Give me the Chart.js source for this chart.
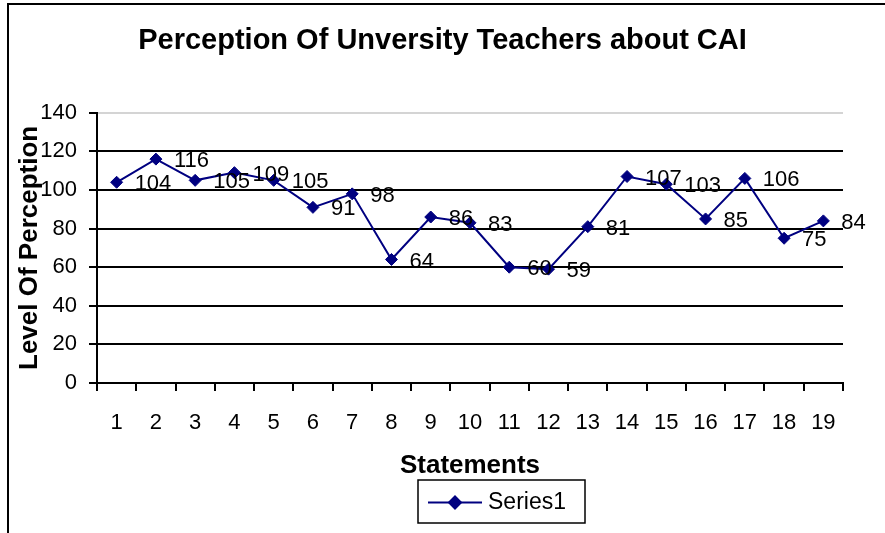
<!DOCTYPE html>
<html>
<head>
<meta charset="utf-8">
<title>Perception Of Unversity Teachers about CAI</title>
<script src="https://cdn.jsdelivr.net/npm/chart.js@4.4.1/dist/chart.umd.min.js"></script>
<style>
  html, body { margin: 0; padding: 0; background: #fff; }
  canvas { display: block; }
</style>
</head>
<body>
<canvas id="grafico" width="885" height="533"></canvas>
<script>
// dados
const statements = ['1', '2', '3', '4', '5', '6', '7', '8', '9', '10',
                    '11', '12', '13', '14', '15', '16', '17', '18', '19'];
const perception = [104, 116, 105, 109, 105, 91, 98, 64, 86, 83,
                    60, 59, 81, 107, 103, 85, 106, 75, 84];
const yMin = 0;
const yMax = 140;
const yStep = 20;

const fonte = '"Liberation Sans", Arial, sans-serif';
const azul = '#000080';

// moldura do gráfico (topo e lado esquerdo)
const moldura = {
    id: 'moldura',
    beforeDraw(chart) {
        const ctx = chart.ctx;
        ctx.save();
        ctx.strokeStyle = '#000';
        ctx.lineWidth = 2;
        ctx.beginPath();
        ctx.moveTo(8, chart.height);
        ctx.lineTo(8, 4);
        ctx.lineTo(chart.width, 4);
        ctx.stroke();
        ctx.restore();
    }
};

// rótulos de valor à direita de cada ponto
const rotulos = {
    id: 'rotulos',
    afterDatasetsDraw(chart) {
        const ctx = chart.ctx;
        const meta = chart.getDatasetMeta(0);
        ctx.save();
        ctx.font = '22px ' + fonte;
        ctx.fillStyle = '#000';
        ctx.textAlign = 'left';
        ctx.textBaseline = 'middle';
        meta.data.forEach((pt, i) => {
            ctx.fillText(String(perception[i]), pt.x + 18, pt.y + 2);
        });
        ctx.restore();
    }
};

// legenda em caixa (linha + losango)
const legendaCaixa = {
    id: 'legendaCaixa',
    afterDraw(chart) {
        const ctx = chart.ctx;
        const ds = chart.data.datasets[0];
        const x = 418, y = 480, w = 167, h = 43;
        const cy = y + h / 2 + 1;
        ctx.save();
        ctx.strokeStyle = '#000';
        ctx.lineWidth = 1.5;
        ctx.strokeRect(x, y, w, h);

        ctx.strokeStyle = ds.borderColor;
        ctx.lineWidth = 2;
        ctx.beginPath();
        ctx.moveTo(x + 10, cy);
        ctx.lineTo(x + 64, cy);
        ctx.stroke();

        ctx.fillStyle = ds.pointBackgroundColor;
        Chart.helpers.drawPoint(ctx, {
            pointStyle: 'rectRot',
            radius: 6,
            borderWidth: 1
        }, x + 37, cy);

        ctx.fillStyle = '#000';
        ctx.font = '23px ' + fonte;
        ctx.textBaseline = 'middle';
        ctx.fillText(ds.label, x + 70, cy);
        ctx.restore();
    }
};

const config = {
    type: 'line',
    data: {
        labels: statements,
        datasets: [{
            label: 'Series1',
            data: perception,
            borderColor: azul,
            backgroundColor: azul,
            borderWidth: 2,
            tension: 0,
            pointStyle: 'rectRot',
            pointRadius: 6,
            pointBackgroundColor: azul,
            pointBorderColor: azul,
            pointBorderWidth: 1
        }]
    },
    options: {
        responsive: false,
        animation: false,
        layout: {
            padding: 0
        },
        plugins: {
            legend: { display: false },
            tooltip: { enabled: false },
            title: {
                display: true,
                text: 'Perception Of Unversity Teachers about CAI',
                color: '#000',
                font: { family: fonte, size: 29, weight: 'bold' },
                padding: { top: 24, bottom: 54 }
            }
        },
        scales: {
            x: {
                offset: true,
                grid: {
                    offset: true,
                    drawOnChartArea: false,
                    color: '#000',
                    lineWidth: 2,
                    tickLength: 8
                },
                border: { color: '#000', width: 2 },
                ticks: {
                    color: '#000',
                    font: { family: fonte, size: 22 },
                    padding: 19,
                    maxRotation: 0,
                    autoSkip: false
                },
                title: {
                    display: true,
                    text: 'Statements',
                    color: '#000',
                    font: { family: fonte, size: 26, weight: 'bold' },
                    padding: { top: 0, bottom: 52 }
                },
                afterFit(scale) {
                    scale.height = 150;
                }
            },
            y: {
                min: yMin,
                max: yMax,
                grid: {
                    color: c => c.tick && c.tick.value === yMax ? '#d4d4d4' : '#000',
                    tickColor: '#000',
                    lineWidth: 2,
                    tickLength: 8
                },
                border: { color: '#000', width: 2 },
                ticks: {
                    stepSize: yStep,
                    color: '#000',
                    font: { family: fonte, size: 22 },
                    padding: 12
                },
                title: {
                    display: true,
                    text: 'Level Of Perception',
                    color: '#000',
                    font: { family: fonte, size: 26, weight: 'bold' },
                    padding: { top: 14, bottom: 0 }
                },
                afterFit(scale) {
                    scale.width = 97;
                }
            },
            // eixo vazio à direita só para reservar a margem
            margem: {
                type: 'linear',
                position: 'right',
                display: true,
                grid: { display: false },
                border: { display: false },
                ticks: { display: false },
                afterFit(scale) {
                    scale.width = 42;
                }
            }
        }
    },
    plugins: [moldura, rotulos, legendaCaixa]
};

new Chart(document.getElementById('grafico').getContext('2d'), config);
</script>
</body>
</html>
